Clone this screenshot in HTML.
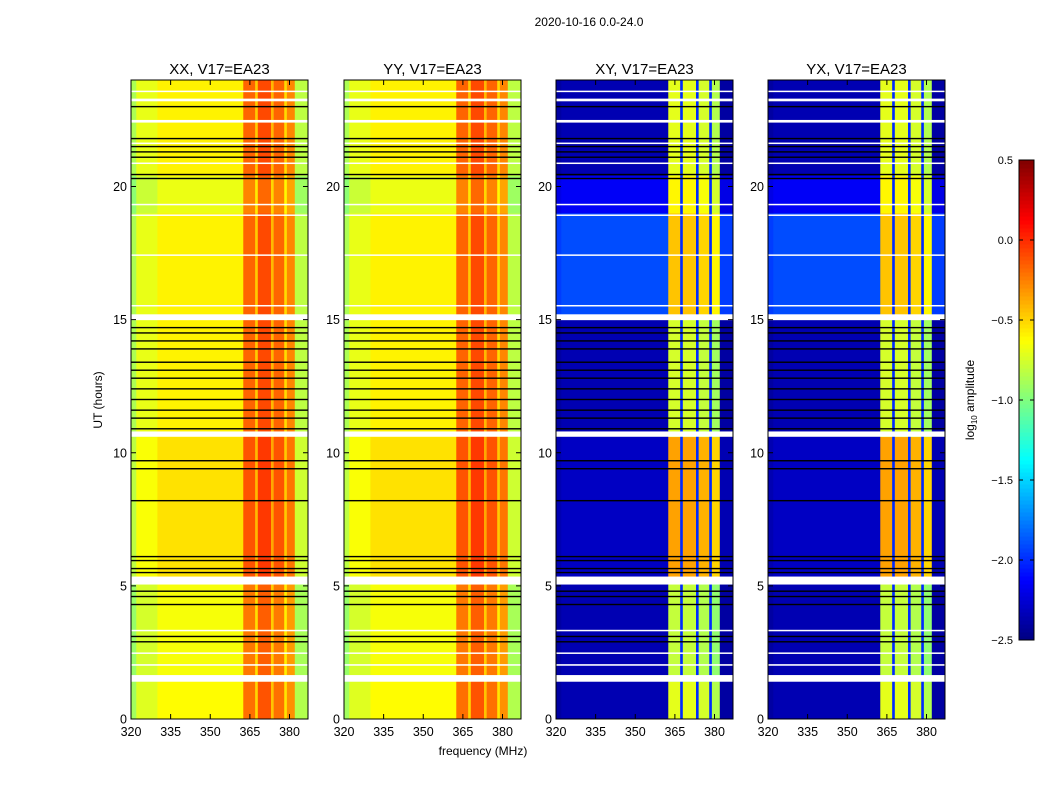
<!DOCTYPE html>
<html><head><meta charset="utf-8"><style>
body{margin:0;background:#fff;font-family:"Liberation Sans","DejaVu Sans",sans-serif}
svg text{font-family:"Liberation Sans","DejaVu Sans",sans-serif}
</style></head><body>
<svg id="fig" width="1050" height="800" xmlns="http://www.w3.org/2000/svg">
<rect width="1050" height="800" fill="#fff"/>
<text x="589" y="26" font-size="12" text-anchor="middle">2020-10-16 0.0-24.0</text>
<g id="panels"></g>
<g id="cbar"></g>
</svg>
<script>
// ---- data ----
const panelTitles=["XX, V17=EA23","YY, V17=EA23","XY, V17=EA23","YX, V17=EA23"];
const freqEdges=[320,322,330,362.5,367,368,373,374,378,379,382,387];
const parVals=[-0.9,-0.72,-0.62,-0.2,-0.5,-0.12,-0.45,-0.2,-0.55,-0.3,-0.85];
const crossVals=[-2.4,-2.35,-2.35,-0.7,-2.0,-0.7,-2.0,-0.75,-2.0,-0.85,-2.4];
const timeEdges=[0,1.4,5.3,10.6,15.0,19.0,20.4,24];
const parOffsets=[0,-0.03,0.08,0.03,0.03,-0.06,0.03];
const crossBgOffsets=[0,0,0.05,0,0.45,0.2,0];
const crossBandOffsets=[0,-0.1,0.35,-0.05,0.25,0.1,0];
const whiteFlags=[[1.4,1.65],[2.0,2.06],[2.45,2.5],[3.3,3.35],[5.05,5.35],[10.6,10.8],[14.98,15.2],[15.5,15.55],[17.4,17.45],[18.9,18.95],[19.3,19.35],[20.85,20.9],[21.6,21.65],[22.4,22.5],[23.2,23.3],[23.55,23.6]];
const blackFlags=[2.9,3.1,4.3,4.6,4.8,5.5,5.65,5.95,6.1,8.2,9.4,9.7,10.9,11.3,11.6,12.0,12.4,12.8,13.1,13.4,13.9,14.2,14.5,14.7,20.3,20.45,21.1,21.3,21.5,21.8,23.0];
const xTicks=[320,335,350,365,380];
const yTicks=[0,5,10,15,20];
const cbTicks=[0.5,0.0,-0.5,-1.0,-1.5,-2.0,-2.5];
// ---- layout ----
(function(){
const NS="http://www.w3.org/2000/svg";
const panelX=[131,344,556,768], pw=177, yTop=80, yBot=719;
const fx=(f,x0)=>x0+(f-320)*pw/(387-320);
const ty=t=>yBot-t*(yBot-yTop)/24;
function jet(v){let t=(v+2.5)/3;t=Math.max(0,Math.min(1,t));
 const r=Math.max(0,Math.min(1,1.5-Math.abs(4*t-3))),g=Math.max(0,Math.min(1,1.5-Math.abs(4*t-2))),b=Math.max(0,Math.min(1,1.5-Math.abs(4*t-1)));
 return `rgb(${Math.round(r*255)},${Math.round(g*255)},${Math.round(b*255)})`;}
function mk(tag,attrs,parent){const e=document.createElementNS(NS,tag);for(const k in attrs)e.setAttribute(k,attrs[k]);parent.appendChild(e);return e;}
const P=document.getElementById('panels');
panelTitles.forEach((title,p)=>{
 const x0=panelX[p];const cross=p>=2;
 const g=mk('g',{},P);
 
 
 const vals=cross?crossVals:parVals;
 for(let i=0;i<timeEdges.length-1;i++)for(let j=0;j<freqEdges.length-1;j++){
  const xa=fx(freqEdges[j],x0),xb=fx(freqEdges[j+1],x0),ya=ty(timeEdges[i+1]),yb=ty(timeEdges[i]);
  let off=cross?(vals[j]<-1.9?crossBgOffsets[i]:crossBandOffsets[i]):parOffsets[i];
  if(cross&&vals[j]<-1.9&&vals[j]>-2.2)off=0;
  const r=mk('rect',{x:xa,y:ya,width:xb-xa+0.3,height:yb-ya+0.3,fill:jet(vals[j]+off)},g);
  
  
 }
 whiteFlags.forEach(w=>{const r=mk('rect',{x:x0,y:ty(w[1]),width:pw,height:Math.max(1.5,ty(w[0])-ty(w[1])),fill:'#fff'},g);
  
  });
 blackFlags.forEach(b=>{const r=mk('rect',{x:x0,y:ty(b)-0.7,width:pw,height:1.4,fill:'#000'},g);
  
  });
 mk('rect',{x:x0,y:yTop,width:pw,height:yBot-yTop,fill:'none',stroke:'#000','stroke-width':1},g);
 const tt=mk('text',{x:x0+pw/2,y:74,'font-size':15,'text-anchor':'middle'},g);tt.textContent=title;
 
 
 xTicks.forEach(f=>{const x=fx(f,x0);mk('line',{x1:x,x2:x,y1:yBot,y2:yBot-5,stroke:'#000'},g);mk('line',{x1:x,x2:x,y1:yTop,y2:yTop+5,stroke:'#000'},g);
  const t=mk('text',{x:x,y:736,'font-size':12.5,'text-anchor':'middle'},g);t.textContent=f;
  
  });
 yTicks.forEach(v=>{const y=ty(v);mk('line',{x1:x0,x2:x0+5,y1:y,y2:y,stroke:'#000'},g);mk('line',{x1:x0+pw,x2:x0+pw-5,y1:y,y2:y,stroke:'#000'},g);
  const t=mk('text',{x:x0-4,y:y+4.5,'font-size':12.5,'text-anchor':'end'},g);t.textContent=v;
  
  });
});
const yl=mk('text',{x:102,y:400,'font-size':12,'text-anchor':'middle',transform:'rotate(-90 102 400)'},P);yl.textContent='UT (hours)';


const xl=mk('text',{x:483,y:755,'font-size':12,'text-anchor':'middle'},P);xl.textContent='frequency (MHz)';


const C=document.getElementById('cbar');
const cx=1019,cw=15,ct=160,cb=640;
const cy=v=>cb-(v+2.5)/3*(cb-ct);
for(let i=0;i<120;i++){const v=-2.5+3*i/120;const r=mk('rect',{x:cx,y:cy(v+3/120),width:cw,height:(cb-ct)/120+0.5,fill:jet(v+1.5/120)},C);
 
 }
mk('rect',{x:cx,y:ct,width:cw,height:cb-ct,fill:'none',stroke:'#000'},C);
cbTicks.forEach(v=>{const y=cy(v);mk('line',{x1:cx,x2:cx+4,y1:y,y2:y,stroke:'#000'},C);mk('line',{x1:cx+cw,x2:cx+cw-4,y1:y,y2:y,stroke:'#000'},C);
 const t=mk('text',{x:1013,y:y+4,'font-size':11,'text-anchor':'end'},C);t.textContent=v.toFixed(1).replace('-','\u2212');
 
 });
const cl=mk('text',{x:974,y:400,'font-size':12,'text-anchor':'middle',transform:'rotate(-90 974 400)'},C);


const s1=mk('tspan',{},cl);s1.textContent='log';
const s2=mk('tspan',{'font-size':8,dy:3},cl);s2.textContent='10';
const s3=mk('tspan',{dy:-3},cl);s3.textContent=' amplitude';
})();
</script>
</body></html>
